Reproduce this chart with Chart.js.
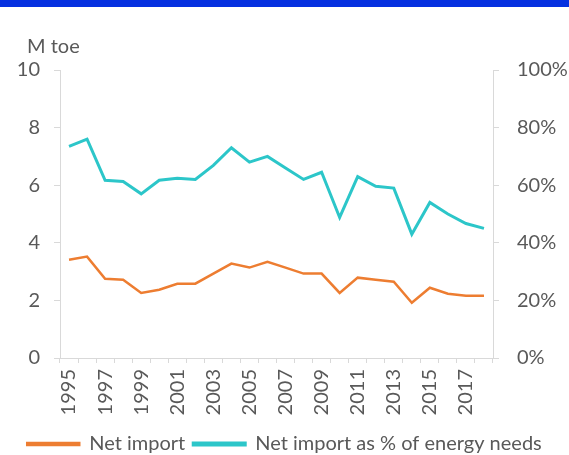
<!DOCTYPE html>
<html lang="en">
<head>
    <meta charset="UTF-8">
    <title>Net import</title>
    <script src="https://cdn.jsdelivr.net/npm/chart.js@4.4.1/dist/chart.umd.min.js"></script>
    <style>
        html, body {
            margin: 0;
            padding: 0;
            background: #ffffff;
        }

        .top-bar {
            height: 7px;
            background-color: #0530e0;
        }

        .chart-box {
            position: relative;
            width: 569px;
            height: 448px;
        }
    </style>
</head>
<body>
    <div class="top-bar"></div>
    <div class="chart-box">
        <canvas id="importChart"></canvas>
    </div>

    <script>
        // Years on the x axis
        const years = ['1995', '1996', '1997', '1998', '1999', '2000', '2001', '2002', '2003', '2004', '2005', '2006',
                       '2007', '2008', '2009', '2010', '2011', '2012', '2013', '2014', '2015', '2016', '2017', '2018'];

        // Net import, M toe (left axis)
        const netImport = [3.41, 3.52, 2.75, 2.72, 2.26, 2.37, 2.58, 2.58, 2.93, 3.28, 3.14, 3.34,
                           3.14, 2.93, 2.93, 2.26, 2.79, 2.72, 2.65, 1.92, 2.44, 2.23, 2.16, 2.16];

        // Net import as % of energy needs (right axis)
        const importShare = [73.5, 76, 61.7, 61.3, 57, 61.7, 62.4, 62, 66.9, 73, 68, 70,
                             66, 62, 64.5, 48.8, 63, 59.6, 59, 43, 54, 50, 46.7, 45];

        const textColor = '#595959';
        const lineGrey = '#d9d9d9';
        const baseFont = { family: 'Lato, "Liberation Sans", sans-serif', size: 20, weight: 'normal' };

        // unit label above the left axis
        const unitLabel = {
            id: 'unitLabel',
            afterDraw(chart) {
                const c = chart.ctx;
                c.save();
                c.fillStyle = textColor;
                c.font = '20px Lato, "Liberation Sans", sans-serif';
                c.textAlign = 'left';
                c.textBaseline = 'middle';
                c.fillText('M toe', 27, 40);
                c.restore();
            }
        };

        const ctx = document.getElementById('importChart').getContext('2d');
        new Chart(ctx, {
            type: 'line',
            data: {
                labels: years,
                datasets: [{
                    label: 'Net import',
                    data: netImport,
                    borderColor: '#ed7d31',
                    backgroundColor: '#ed7d31',
                    borderWidth: 2.5,
                    pointRadius: 0,
                    tension: 0,
                    yAxisID: 'y'
                }, {
                    label: 'Net import as % of energy needs',
                    data: importShare,
                    borderColor: '#2cc6c9',
                    backgroundColor: '#2cc6c9',
                    borderWidth: 3,
                    pointRadius: 0,
                    tension: 0,
                    yAxisID: 'y1'
                }]
            },
            options: {
                responsive: true,
                maintainAspectRatio: false,
                animation: false,
                layout: {
                    padding: { left: 0, right: 0, top: 63, bottom: -9 }
                },
                plugins: {
                    legend: {
                        position: 'bottom',
                        labels: {
                            color: textColor,
                            font: baseFont,
                            boxWidth: 52,
                            boxHeight: 2,
                            padding: 8
                        }
                    },
                    tooltip: { enabled: false }
                },
                scales: {
                    x: {
                        offset: true,
                        border: { color: lineGrey },
                        grid: {
                            drawOnChartArea: false,
                            offset: true,
                            color: lineGrey,
                            tickLength: 5
                        },
                        ticks: {
                            color: textColor,
                            font: baseFont,
                            autoSkip: false,
                            minRotation: 90,
                            maxRotation: 90,
                            padding: 6,
                            callback: function (value, index) {
                                return index % 2 === 0 ? this.getLabelForValue(value) : '';
                            }
                        },
                        afterFit: function (scale) {
                            scale.height = 68;
                        }
                    },
                    y: {
                        position: 'left',
                        min: 0,
                        max: 10,
                        border: { color: lineGrey },
                        grid: {
                            drawOnChartArea: false,
                            color: lineGrey,
                            tickLength: 6
                        },
                        ticks: {
                            stepSize: 2,
                            color: textColor,
                            font: baseFont,
                            padding: 14
                        },
                        afterFit: function (scale) {
                            scale.width = 60;
                        }
                    },
                    y1: {
                        position: 'right',
                        min: 0,
                        max: 100,
                        border: { color: lineGrey },
                        grid: {
                            drawOnChartArea: false,
                            color: lineGrey,
                            tickLength: 6
                        },
                        ticks: {
                            stepSize: 20,
                            color: textColor,
                            font: baseFont,
                            padding: 18,
                            callback: function (value) {
                                return value + '%';
                            }
                        },
                        afterFit: function (scale) {
                            scale.width = 76;
                        }
                    }
                }
            },
            plugins: [unitLabel]
        });
    </script>
</body>
</html>
